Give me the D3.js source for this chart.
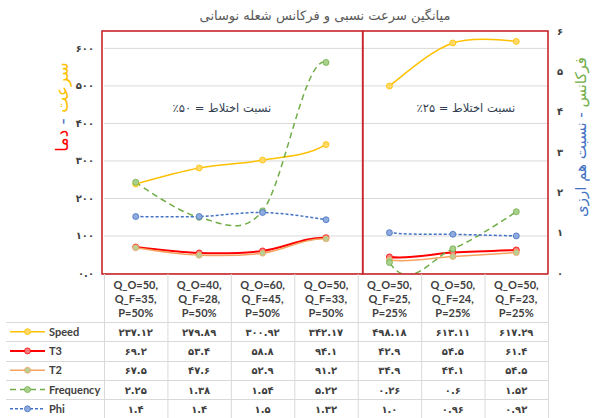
<!DOCTYPE html>
<html>
<head>
<meta charset="utf-8">
<script src="https://cdn.jsdelivr.net/npm/d3@7"></script>
<style>
  body { margin: 0; background: #fff; }
  svg { display: block; }
</style>
</head>
<body>
<div id="chart"></div>
<script>
const categories = [
  "Q_O=50,|Q_F=35,|P=50%",
  "Q_O=40,|Q_F=28,|P=50%",
  "Q_O=60,|Q_F=45,|P=50%",
  "Q_O=50,|Q_F=33,|P=50%",
  "Q_O=50,|Q_F=25,|P=25%",
  "Q_O=50,|Q_F=24,|P=25%",
  "Q_O=50,|Q_F=23,|P=25%"
]
const speed = [237.12, 279.89, 300.92, 342.17, 498.18, 613.11, 617.29]
const t3 = [69.2, 53.4, 58.8, 94.1, 42.9, 54.5, 61.4]
const t2 = [67.5, 47.6, 52.9, 91.2, 34.9, 44.1, 54.5]
const frequency = [2.25, 1.38, 1.54, 5.22, 0.26, 0.6, 1.52]
const phi = [1.4, 1.4, 1.5, 1.32, 1.0, 0.96, 0.92]
const leftTicks = [0, 100, 200, 300, 400, 500, 600]
const rightTicks = [0, 1, 2, 3, 4, 5, 6]
const groups = [[0, 1, 2, 3], [4, 5, 6]]
const groupLabels = ["نسبت اختلاط = ۵۰٪", "نسبت اختلاط = ۲۵٪"]
const title = "میانگین سرعت نسبی و فرکانس شعله نوسانی"

const W = 594, H = 418
const plot = { left: 104, right: 548, top: 31, bottom: 273 }
const fa = "'DejaVu Sans', sans-serif"
const la = "Lato, 'Open Sans', sans-serif"
const textColor = "#404040"

const toFa = s => String(s).replace(/\d/g, d => "۰۱۲۳۴۵۶۷۸۹"[d])
const fmt = v => Number.isInteger(v) ? v.toFixed(1) : String(v)

const series = [
  { name: "Speed", values: speed, axis: "left", color: "#FFC000", fill: "#FFD966", width: 1.5, dash: null },
  { name: "T3", values: t3, axis: "left", color: "#FF0000", fill: "#F08080", width: 2, dash: null },
  { name: "T2", values: t2, axis: "left", color: "#F4A460", fill: "#B9CF95", width: 1.5, dash: null },
  { name: "Frequency", values: frequency, axis: "right", color: "#70AD47", fill: "#A9D18E", width: 1.5, dash: "6,4" },
  { name: "Phi", values: phi, axis: "right", color: "#4472C4", fill: "#8FAADC", width: 1.5, dash: "3,2" }
]

const svg = d3.select("#chart").append("svg")
  .attr("width", W)
  .attr("height", H)

const x = d3.scaleBand()
  .domain(d3.range(categories.length))
  .range([plot.left, plot.right])
  .padding(0)
const cx = i => x(i) + x.bandwidth() / 2

const yLeft = d3.scaleLinear().domain([0, 645]).range([plot.bottom, plot.top])
const yRight = d3.scaleLinear().domain([0, 6]).range([plot.bottom, plot.top])

// title
svg.append("text")
  .attr("x", 325).attr("y", 20)
  .attr("text-anchor", "middle")
  .attr("direction", "rtl")
  .attr("font-family", fa)
  .attr("font-size", 13)
  .attr("fill", "#595959")
  .text(title)

// gridlines
svg.append("g")
  .selectAll("line")
  .data(leftTicks)
  .enter().append("line")
  .attr("x1", plot.left).attr("x2", plot.right)
  .attr("y1", d => yLeft(d) + 0.5).attr("y2", d => yLeft(d) + 0.5)
  .attr("stroke", "#D9D9D9")
  .attr("stroke-width", 1)

// left axis
const leftAxis = d3.axisLeft(yLeft)
  .tickValues(leftTicks)
  .tickSize(0)
  .tickPadding(10)
  .tickFormat(d => toFa(d === 0 ? "0.0" : d))
const gL = svg.append("g").attr("transform", `translate(${plot.left},0)`).call(leftAxis)
gL.select(".domain").remove()
gL.selectAll("text")
  .attr("font-family", fa).attr("font-size", 10).attr("font-weight", "bold")
  .attr("fill", textColor)

// right axis
const rightAxis = d3.axisRight(yRight)
  .tickValues(rightTicks)
  .tickSize(0)
  .tickPadding(9)
  .tickFormat(d => toFa(d))
const gR = svg.append("g").attr("transform", `translate(${plot.right},0)`).call(rightAxis)
gR.select(".domain").remove()
gR.selectAll("text")
  .attr("font-family", fa).attr("font-size", 10).attr("font-weight", "bold")
  .attr("fill", textColor)

// axis titles
const lt = svg.append("text")
  .attr("transform", "translate(68,107) rotate(-90)")
  .attr("text-anchor", "middle")
  .attr("direction", "rtl")
  .attr("font-family", fa)
  .attr("font-size", 17)
lt.append("tspan").attr("fill", "#FFC000").text("سرعت")
lt.append("tspan").attr("fill", "#4472C4").text(" - ")
lt.append("tspan").attr("fill", "#FF0000").text("دما")

const rt = svg.append("text")
  .attr("transform", "translate(586,137) rotate(-90)")
  .attr("text-anchor", "middle")
  .attr("direction", "rtl")
  .attr("font-family", fa)
  .attr("font-size", 15)
rt.append("tspan").attr("fill", "#70AD47").text("فرکانس")
rt.append("tspan").attr("fill", "#4472C4").text(" - نسبت هم ارزی")

// series: one smooth line through all points, the piece between the groups is hidden
const defs = svg.append("defs")
const lineClip = defs.append("clipPath").attr("id", "lineclip")
groups.forEach(g => {
  lineClip.append("rect")
    .attr("x", cx(g[0])).attr("y", plot.top)
    .attr("width", cx(g[g.length - 1]) - cx(g[0]))
    .attr("height", plot.bottom - plot.top + 1)
})
defs.append("clipPath").attr("id", "clip")
  .append("rect")
  .attr("x", plot.left).attr("y", plot.top - 4)
  .attr("width", plot.right - plot.left).attr("height", plot.bottom - plot.top + 5)

const lineG = svg.append("g").attr("clip-path", "url(#lineclip)")
const markG = svg.append("g").attr("clip-path", "url(#clip)")

series.forEach(s => {
  const y = s.axis === "left" ? yLeft : yRight
  const line = d3.line()
    .x((d, i) => cx(i))
    .y(d => y(d))
    .curve(d3.curveCardinal.tension(0))
  lineG.append("path")
    .datum(s.values)
    .attr("fill", "none")
    .attr("stroke", s.color)
    .attr("stroke-width", s.width)
    .attr("stroke-dasharray", s.dash)
    .attr("d", line)
  markG.append("g")
    .selectAll("circle")
    .data(s.values)
    .enter().append("circle")
    .attr("cx", (d, i) => cx(i))
    .attr("cy", d => y(d))
    .attr("r", 3)
    .attr("fill", s.fill)
    .attr("stroke", s.color)
    .attr("stroke-width", 0.8)
})

// group annotations
const labelShift = [-9, 13]
groups.forEach((g, k) => {
  const mid = (x(g[0]) + x(g[g.length - 1]) + x.bandwidth()) / 2
  svg.append("text")
    .attr("x", mid + labelShift[k]).attr("y", 112)
    .attr("text-anchor", "middle")
    .attr("direction", "rtl")
    .attr("font-family", fa)
    .attr("font-size", 11.5)
    .attr("fill", "#333F50")
    .text(groupLabels[k])
})

// red frames round the two groups
const divider = x(4) + 5
const frames = [[plot.left - 2, divider], [divider, plot.right]]
svg.append("g")
  .selectAll("rect")
  .data(frames)
  .enter().append("rect")
  .attr("x", d => d[0]).attr("y", plot.top)
  .attr("width", d => d[1] - d[0]).attr("height", plot.bottom - plot.top + 1)
  .attr("fill", "none")
  .attr("stroke", "#C8262B")
  .attr("stroke-width", 1.6)

// data table
const headTop = plot.bottom + 1
const headBottom = 322
const rowH = 19.3
const tableBottom = H

const table = svg.append("g")

table.selectAll("line.v")
  .data(d3.range(categories.length + 1))
  .enter().append("line")
  .attr("x1", i => (i < categories.length ? x(i) : plot.right) + 0.5)
  .attr("x2", i => (i < categories.length ? x(i) : plot.right) + 0.5)
  .attr("y1", headTop).attr("y2", tableBottom)
  .attr("stroke", "#D9D9D9")

table.selectAll("line.h")
  .data(d3.range(series.length))
  .enter().append("line")
  .attr("x1", 6).attr("x2", plot.right)
  .attr("y1", i => Math.round(headBottom + i * rowH) + 0.5)
  .attr("y2", i => Math.round(headBottom + i * rowH) + 0.5)
  .attr("stroke", "#D9D9D9")

categories.forEach((c, i) => {
  const t = table.append("text")
    .attr("text-anchor", "middle")
    .attr("font-family", la)
    .attr("font-size", 11)
    .attr("font-weight", "bold")
    .attr("fill", textColor)
  c.split("|").forEach((part, j) => {
    t.append("tspan").attr("x", cx(i)).attr("y", 289 + j * 14).text(part)
  })
})

series.forEach((s, r) => {
  const yc = headBottom + r * rowH + rowH / 2
  table.append("line")
    .attr("x1", 10).attr("x2", 45)
    .attr("y1", yc).attr("y2", yc)
    .attr("stroke", s.color)
    .attr("stroke-width", s.width)
    .attr("stroke-dasharray", s.dash)
  table.append("circle")
    .attr("cx", 27.5).attr("cy", yc).attr("r", 3)
    .attr("fill", s.fill).attr("stroke", s.color).attr("stroke-width", 0.8)
  table.append("text")
    .attr("x", 49).attr("y", yc + 4)
    .attr("font-family", la).attr("font-size", 11).attr("font-weight", "bold")
    .attr("fill", textColor)
    .text(s.name)
  table.selectAll(null)
    .data(s.values)
    .enter().append("text")
    .attr("x", (d, i) => cx(i))
    .attr("y", yc + 4)
    .attr("text-anchor", "middle")
    .attr("font-family", fa).attr("font-size", 10).attr("font-weight", "bold")
    .attr("fill", textColor)
    .text(d => toFa(fmt(d)))
})
</script>
</body>
</html>
